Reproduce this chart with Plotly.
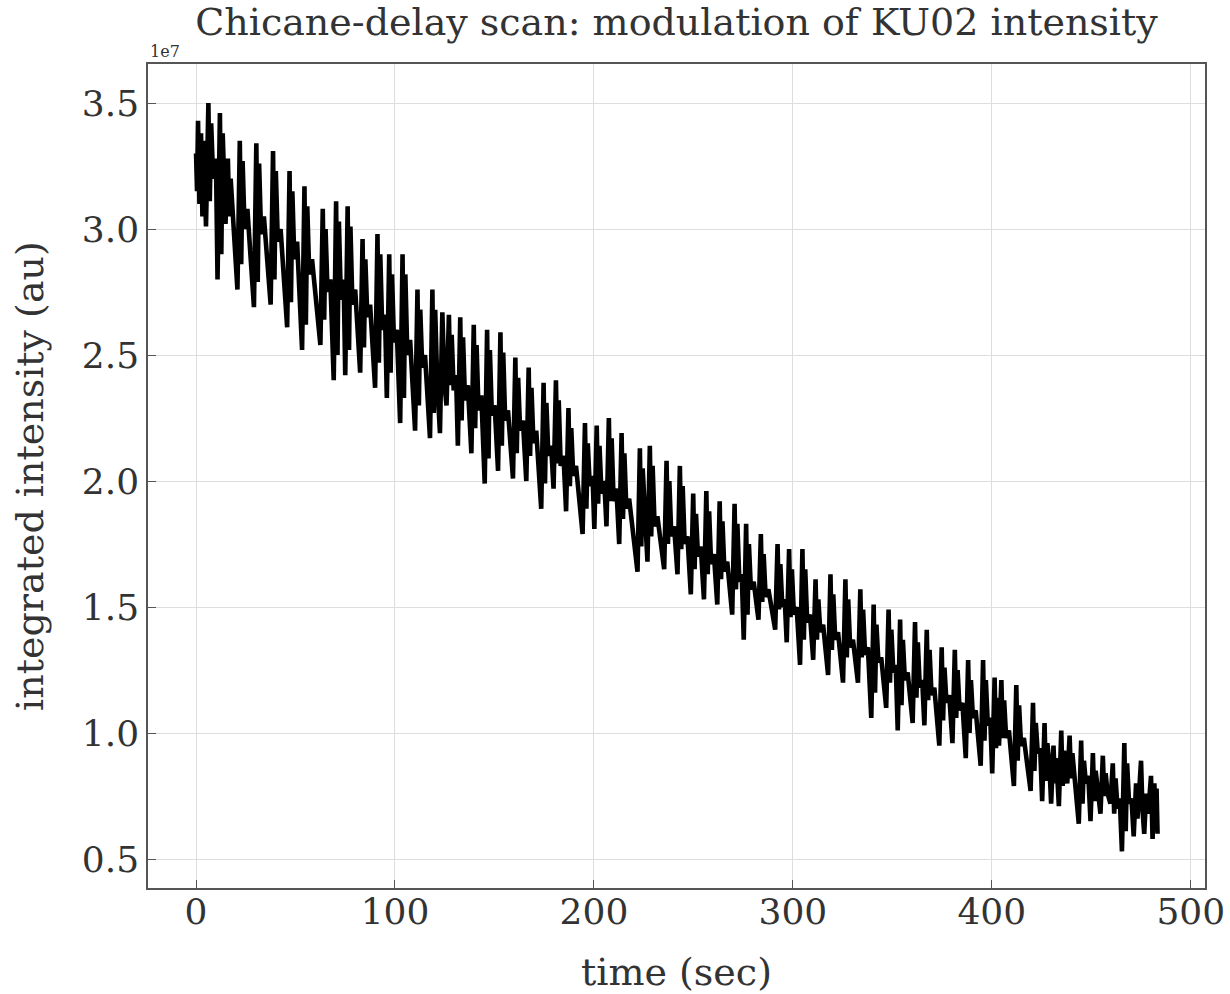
import plotly.graph_objects as go

# time (sec) and integrated intensity (units of 1e7);
# one line per modulation tooth: dip, peak, inner dip, inner peak, band level
time_sec = [
    0.0, 0.5, 1.0, 1.7, 2.5, 3.2, 3.9,
    5.0, 6.2, 6.9, 7.6, 8.6, 10.0,
    10.8, 12.0, 12.7, 13.4, 14.4,
    14.8, 16.0, 16.7, 17.4, 18.4,
    20.8, 22.0, 22.7, 23.4, 24.4, 25.8,
    29.1, 30.3, 31.0, 31.7, 32.7, 34.1,
    37.5, 38.7, 39.4, 40.1, 41.1, 42.5,
    45.8, 47.0, 47.7, 48.4, 49.4, 50.8,
    53.3, 54.5, 55.2, 55.9, 56.9, 58.3,
    62.5, 63.7, 64.4, 65.1, 66.1, 67.5,
    69.2, 70.4, 71.1, 71.8, 72.8, 74.2,
    75.0, 76.2, 76.9, 77.6, 78.6, 80.0,
    82.5, 83.7, 84.4, 85.1, 86.1, 87.5,
    90.0, 91.2, 91.9, 92.6, 93.6, 95.0,
    95.9, 97.1, 97.8, 98.5, 99.5, 100.9,
    102.6, 103.8, 104.5, 105.2, 106.2, 107.6,
    110.1, 111.3, 112.0, 112.7, 113.7, 115.1,
    117.6, 118.8, 119.5, 120.2, 121.2,
    122.6, 123.8, 124.9,
    125.9, 127.1, 127.8, 128.5, 129.5, 130.7,
    131.6, 132.8, 133.5, 134.2, 135.2, 136.6,
    138.4, 139.6, 140.3, 141.0, 142.0, 143.4,
    145.1, 146.3, 147.0, 147.7, 148.7, 150.1,
    151.8, 153.0, 153.7, 154.4, 155.4, 156.8,
    159.3, 160.5, 161.2, 161.9, 162.9, 164.3,
    166.0, 167.2, 167.9, 168.6, 169.6, 171.0,
    173.5, 174.7, 175.4, 176.1, 177.1, 178.5,
    179.7, 180.9, 181.6, 182.3, 183.3, 184.7,
    186.0, 187.2, 187.9, 188.6, 189.6, 191.0,
    194.3, 195.5, 196.2, 196.9, 197.9, 199.3,
    200.2, 201.4, 202.1, 202.8, 203.8, 205.2,
    206.3, 207.5, 208.2, 208.9, 209.9, 211.3,
    212.7, 213.9, 214.6, 215.3, 216.3, 217.7,
    221.9, 223.1, 223.8, 224.5, 225.5,
    226.9, 228.1, 228.8, 229.5, 230.5, 231.9,
    235.3, 236.5, 237.2, 237.9, 238.9, 240.3,
    242.0, 243.2, 243.9, 244.6, 245.6, 247.0,
    248.7, 249.9, 250.6, 251.3, 252.3, 253.7,
    255.3, 256.5, 257.2, 257.9, 258.9, 260.3,
    262.0, 263.2, 263.9, 264.6, 265.6, 267.0,
    269.5, 270.7, 271.4, 272.1, 273.1, 274.3,
    275.3, 276.5, 277.2, 277.9, 278.9, 280.3,
    282.7, 283.9, 284.6, 285.3, 286.3, 287.7,
    291.1, 292.3, 293.0, 293.7, 294.7, 295.9,
    296.9, 298.1, 298.8, 299.5, 300.5, 301.9,
    303.6, 304.8, 305.5, 306.2, 307.2, 308.6,
    310.2, 311.4, 312.1, 312.8, 313.8, 315.2,
    317.7, 318.9, 319.6, 320.3, 321.3, 322.7,
    325.2, 326.4, 327.1, 327.8, 328.8, 330.2,
    332.7, 333.9, 334.6, 335.3, 336.3, 337.7,
    339.4, 340.6, 341.3, 342.0, 343.0, 344.4,
    346.9, 348.1, 348.8, 349.5, 350.5, 351.7,
    352.7, 353.9, 354.6, 355.3, 356.3, 357.7,
    360.2, 361.4, 362.1, 362.8, 363.8, 365.0,
    366.1, 367.3, 368.0, 368.7, 369.7, 371.1,
    373.6, 374.8, 375.5, 376.2, 377.2, 378.6,
    380.2, 381.4, 382.1, 382.8, 383.8, 385.2,
    386.9, 388.1, 388.8, 389.5, 390.5, 391.9,
    394.4, 395.6, 396.3, 397.0, 398.0, 399.2,
    400.2, 401.4, 402.1, 402.8,
    403.6, 404.8, 405.5, 406.2, 407.2, 408.6,
    411.1, 412.3, 413.0, 413.7, 414.7, 416.1,
    419.5, 420.7, 421.4, 422.1, 423.1, 424.3,
    425.3, 426.5, 427.2, 427.9, 428.9,
    429.8, 431.0, 431.7, 432.4,
    433.7, 434.9, 435.6, 436.3, 437.2,
    437.9, 439.1, 439.8, 440.5, 441.5,
    443.7, 444.9, 445.6, 446.3, 447.3, 448.5,
    449.6, 450.8, 451.5, 452.2, 453.2,
    454.6, 455.8, 456.5, 457.2, 458.2,
    459.6, 460.8, 461.5, 462.2, 463.2, 464.3,
    465.4, 466.6, 467.3, 468.0, 469.0, 470.2,
    471.3, 472.5, 473.2, 473.9, 475.0, 475.7, 476.6, 477.6,
    478.6, 480.0, 480.8, 481.7, 482.3, 482.8, 483.3,
]
intensity_1e7 = [
    3.30, 3.15, 3.43, 3.10, 3.38, 3.05, 3.35,
    3.01, 3.50, 3.11, 3.42, 3.20, 3.28,
    2.80, 3.46, 2.90, 3.38, 3.10,
    3.02, 3.28, 3.05, 3.20, 3.05,
    2.76, 3.35, 2.86, 3.27, 3.00, 3.08,
    2.69, 3.34, 2.79, 3.26, 2.98, 3.05,
    2.70, 3.31, 2.80, 3.23, 2.95, 3.00,
    2.61, 3.23, 2.71, 3.15, 2.88, 2.95,
    2.52, 3.17, 2.62, 3.09, 2.82, 2.88,
    2.54, 3.08, 2.64, 3.00, 2.75, 2.80,
    2.40, 3.11, 2.50, 3.03, 2.72, 2.80,
    2.42, 3.09, 2.52, 3.01, 2.70, 2.76,
    2.43, 2.96, 2.53, 2.88, 2.65, 2.70,
    2.37, 2.98, 2.47, 2.90, 2.60, 2.66,
    2.33, 2.90, 2.43, 2.82, 2.55, 2.60,
    2.23, 2.90, 2.33, 2.82, 2.50, 2.56,
    2.20, 2.76, 2.30, 2.68, 2.45, 2.50,
    2.17, 2.76, 2.27, 2.68, 2.40,
    2.19, 2.67, 2.38,
    2.30, 2.66, 2.38, 2.58, 2.36, 2.42,
    2.14, 2.65, 2.24, 2.57, 2.32, 2.38,
    2.11, 2.62, 2.21, 2.54, 2.28, 2.34,
    1.99, 2.60, 2.09, 2.52, 2.26, 2.30,
    2.04, 2.59, 2.14, 2.51, 2.24, 2.28,
    2.01, 2.49, 2.11, 2.41, 2.20, 2.24,
    2.00, 2.45, 2.10, 2.37, 2.15, 2.20,
    1.89, 2.39, 1.99, 2.31, 2.10, 2.14,
    1.97, 2.40, 2.07, 2.32, 2.06, 2.10,
    1.88, 2.29, 1.98, 2.21, 2.02, 2.06,
    1.79, 2.23, 1.89, 2.15, 1.98, 2.02,
    1.81, 2.22, 1.91, 2.14, 1.95, 2.00,
    1.82, 2.25, 1.92, 2.17, 1.92, 1.97,
    1.75, 2.19, 1.85, 2.11, 1.89, 1.93,
    1.64, 2.13, 1.74, 2.05, 1.85,
    1.68, 2.14, 1.78, 2.06, 1.82, 1.86,
    1.65, 2.08, 1.75, 2.00, 1.78, 1.82,
    1.63, 2.06, 1.73, 1.98, 1.75, 1.78,
    1.55, 1.95, 1.65, 1.87, 1.70, 1.74,
    1.53, 1.96, 1.63, 1.88, 1.67, 1.71,
    1.51, 1.92, 1.61, 1.84, 1.64, 1.68,
    1.47, 1.91, 1.57, 1.83, 1.60, 1.63,
    1.37, 1.83, 1.47, 1.75, 1.57, 1.60,
    1.45, 1.79, 1.52, 1.71, 1.54, 1.57,
    1.41, 1.75, 1.49, 1.67, 1.50, 1.53,
    1.36, 1.73, 1.46, 1.65, 1.47, 1.50,
    1.27, 1.73, 1.37, 1.65, 1.44, 1.47,
    1.29, 1.61, 1.37, 1.53, 1.40, 1.43,
    1.23, 1.63, 1.33, 1.55, 1.37, 1.40,
    1.20, 1.61, 1.30, 1.53, 1.34, 1.37,
    1.20, 1.57, 1.30, 1.49, 1.31, 1.34,
    1.06, 1.51, 1.16, 1.43, 1.28, 1.30,
    1.10, 1.49, 1.20, 1.41, 1.24, 1.27,
    1.01, 1.45, 1.11, 1.37, 1.21, 1.24,
    1.04, 1.44, 1.14, 1.36, 1.18, 1.21,
    1.03, 1.41, 1.13, 1.33, 1.15, 1.18,
    0.95, 1.34, 1.05, 1.26, 1.12, 1.15,
    0.96, 1.33, 1.06, 1.25, 1.09, 1.12,
    0.90, 1.29, 1.00, 1.21, 1.06, 1.09,
    0.87, 1.29, 0.97, 1.21, 1.03, 1.06,
    0.84, 1.22, 0.94, 1.14,
    0.95, 1.21, 0.98, 1.13, 0.98, 1.01,
    0.79, 1.19, 0.89, 1.11, 0.95, 0.98,
    0.77, 1.12, 0.85, 1.04, 0.92, 0.94,
    0.73, 1.04, 0.81, 0.96, 0.88,
    0.72, 0.95, 0.80, 0.90,
    0.71, 1.01, 0.79, 0.93, 0.85,
    0.80, 0.99, 0.82, 0.92, 0.83,
    0.64, 0.97, 0.72, 0.89, 0.80, 0.83,
    0.65, 0.92, 0.73, 0.85, 0.78,
    0.68, 0.91, 0.75, 0.84, 0.76,
    0.72, 0.88, 0.68, 0.82, 0.70, 0.74,
    0.53, 0.96, 0.61, 0.88, 0.72, 0.74,
    0.59, 0.80, 0.66, 0.76, 0.89, 0.70, 0.60, 0.76,
    0.68, 0.83, 0.58, 0.80, 0.62, 0.78, 0.60,
]
assert len(time_sec) == len(intensity_1e7)

x_ticks = [0, 100, 200, 300, 400, 500]
y_ticks = [0.5, 1.0, 1.5, 2.0, 2.5, 3.0, 3.5]

FONT = "DejaVu Serif"
TXT = "#333333"

fig = go.Figure()
fig.add_trace(go.Scatter(
    x=time_sec, y=intensity_1e7, mode="lines",
    line=dict(color="black", width=4.6),
    showlegend=False, hoverinfo="skip",
))

axis_common = dict(
    showline=True, linecolor="#555555", linewidth=1.5, mirror=True,
    showgrid=True, gridcolor="#dddddd", gridwidth=1,
    ticks="inside", ticklen=8, tickwidth=1.2, tickcolor="#555555",
    zeroline=False, automargin=False,
    tickfont=dict(family=FONT, size=36, color=TXT),
)

fig.update_layout(
    width=1230, height=994,
    paper_bgcolor="white", plot_bgcolor="white",
    margin=dict(l=148, r=25, t=64, b=106),
    title=dict(
        text="Chicane-delay scan: modulation of KU02 intensity",
        font=dict(family=FONT, size=38, color=TXT),
        x=0.55, xanchor="center", y=0.978, yanchor="middle",
    ),
    xaxis=dict(
        **axis_common,
        range=[-24.15, 507.15],
        tickvals=x_ticks, ticktext=[str(v) for v in x_ticks],
        ticklabelstandoff=-9,
        title=dict(text="time (sec)", font=dict(family=FONT, size=38, color=TXT), standoff=29),
    ),
    yaxis=dict(
        **axis_common,
        range=[0.385, 3.655],
        tickvals=y_ticks, ticktext=[f"{v:.1f}" for v in y_ticks],
        title=dict(text="integrated intensity (au)", font=dict(family=FONT, size=38, color=TXT), standoff=26),
    ),
    annotations=[dict(
        text="1e7", xref="paper", yref="paper", x=0.0, y=1.0,
        xanchor="left", yanchor="bottom", showarrow=False,
        font=dict(family=FONT, size=16, color=TXT), yshift=1,
    )],
)

fig.write_html("out.html")
